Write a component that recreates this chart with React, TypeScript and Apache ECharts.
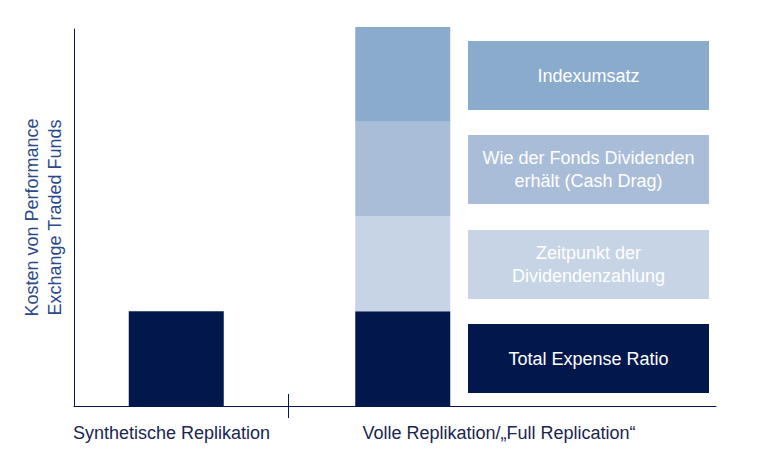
import React, { useEffect, useRef } from "react";
import * as echarts from "echarts";

const categories = ["Synthetische Replikation", "Volle Replikation/„Full Replication“"];
const axisCategories = ["Synthetische Replikation", "Volle Replikation/„Full Replication“", ""];
const tickSlots = ["", "", "", ""];
const seriesNames = ["Total Expense Ratio", "Zeitpunkt der\nDividendenzahlung", "Wie der Fonds Dividenden\nerhält (Cash Drag)", "Indexumsatz"];
const terValues = [1, 1];
const zeitpunktValues = [null, 1];
const cashDragValues = [null, 1];
const indexValues = [null, 1];
const seriesColors = ["#02184D", "#C7D4E6", "#A9BDD8", "#8BABCD"];
const yAxisTitle = "Kosten von Performance\nExchange Traded Funds";
const yMax = 4;

export default function App() {
  const ref = useRef<HTMLDivElement>(null);
  useEffect(() => {
    if (!ref.current) return;
    const chart = echarts.init(ref.current, null, { renderer: "svg" });
    const font = "'Liberation Sans', Arial, sans-serif";
    const allValues = [terValues, zeitpunktValues, cashDragValues, indexValues];
    const series: any[] = allValues.map((vals, i) => ({
      name: seriesNames[i],
      type: "bar",
      stack: "total",
      xAxisIndex: 3,
      yAxisIndex: 1,
      barWidth: 95,
      data: vals.map((v) => (v === null ? "-" : v)),
      itemStyle: { color: seriesColors[i] },
    }));
    const boxTops = [41, 135, 230, 324];
    const legendGraphics: any[] = [];
    [3, 2, 1, 0].forEach((si, k) => {
      legendGraphics.push({
        type: "rect",
        left: 468,
        top: boxTops[k],
        shape: { width: 241, height: 69 },
        style: { fill: seriesColors[si] },
        silent: true,
      });
      legendGraphics.push({
        type: "text",
        x: 468 + 120.5,
        y: boxTops[k] + 34.5,
        style: {
          text: seriesNames[si],
          fill: "#FFFFFF",
          font: `18px ${font}`,
          align: "center",
          verticalAlign: "middle",
          lineHeight: 23,
        },
        silent: true,
      });
    });
    const tickAxis = (inside: boolean) => ({
      type: "category",
      gridIndex: 0,
      position: "bottom",
      boundaryGap: false,
      data: tickSlots,
      axisLine: { show: false },
      axisTick: {
        show: true,
        inside,
        length: 12,
        interval: (idx: number) => idx === 1,
        lineStyle: { color: "#02184D", width: 1 },
      },
      axisLabel: { show: false },
      splitLine: { show: false },
    });
    chart.setOption({
      animation: false,
      grid: [
        { left: 74, right: 53, top: 29, bottom: 68 },
        { left: 63, right: 253, top: 27, bottom: 68 },
      ],
      xAxis: [
        {
          type: "category",
          gridIndex: 0,
          position: "bottom",
          data: axisCategories,
          axisLine: { show: true, lineStyle: { color: "#02184D", width: 1 } },
          axisTick: { show: false },
          axisLabel: {
            margin: 18,
            fontFamily: font,
            fontSize: 18,
            color: "#1A2550",
            interval: 0,
            formatter: (v: string, idx: number) =>
              idx === 0 ? `{a|${v}}` : idx === 1 ? `{b|${v}}` : "",
            rich: {
              a: { fontFamily: font, fontSize: 18, color: "#1A2550", padding: [0, 19, 0, 0] },
              b: { fontFamily: font, fontSize: 18, color: "#1A2550", padding: [0, 0, 0, 208] },
            },
          },
          splitLine: { show: false },
        },
        tickAxis(false),
        tickAxis(true),
        {
          type: "category",
          gridIndex: 1,
          position: "bottom",
          data: categories,
          axisLine: { show: false },
          axisTick: { show: false },
          axisLabel: { show: false },
          splitLine: { show: false },
        },
      ],
      yAxis: [
        {
          type: "value",
          gridIndex: 0,
          min: 0,
          max: yMax,
          axisLine: { show: true, lineStyle: { color: "#02184D", width: 1 } },
          axisTick: { show: false },
          axisLabel: { show: false },
          splitLine: { show: false },
          name: yAxisTitle,
          nameLocation: "middle",
          nameRotate: 90,
          nameGap: 8,
          nameTextStyle: {
            fontFamily: font,
            fontSize: 18,
            color: "#2B4A8C",
            lineHeight: 23,
            align: "center",
          },
        },
        {
          type: "value",
          gridIndex: 1,
          min: 0,
          max: yMax,
          show: false,
          splitLine: { show: false },
        },
      ],
      series,
      graphic: legendGraphics,
    });
    return () => chart.dispose();
  }, []);
  return <div ref={ref} style={{ width: 769, height: 474, position: "absolute", left: 0, top: 0 }} />;
}
